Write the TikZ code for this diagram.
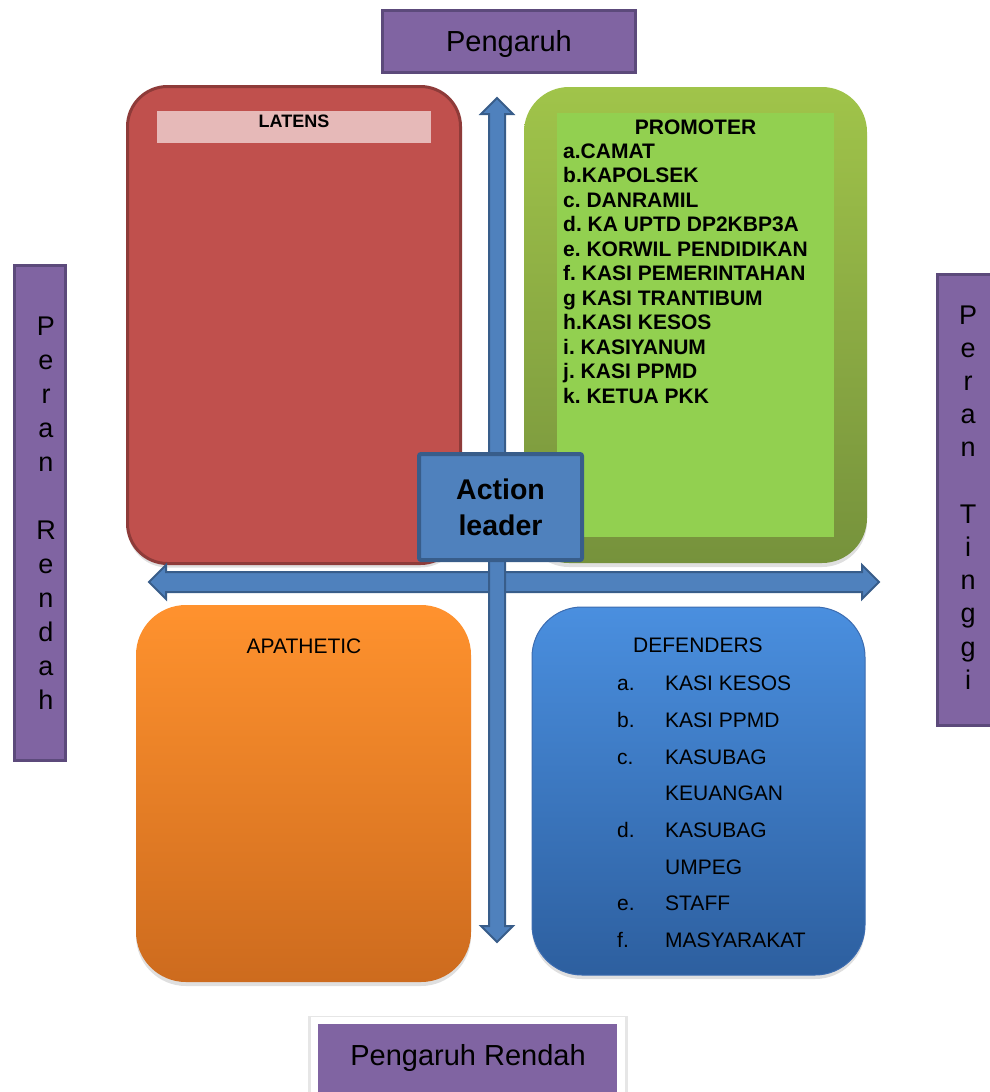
\documentclass[tikz,border=0pt]{standalone}
\usepackage{fontspec}
\setmainfont{Liberation Sans}
\usetikzlibrary{shapes.arrows,shadows}
\frenchspacing

\definecolor{rolefill}{HTML}{8064A2}
\definecolor{roleedge}{HTML}{5C4A7B}
\definecolor{latensfill}{HTML}{C0504D}
\definecolor{latensedge}{HTML}{8E3B39}
\definecolor{latensbar}{HTML}{E6B9B8}
\definecolor{promotop}{HTML}{A0C44A}
\definecolor{promobot}{HTML}{76923C}
\definecolor{promoinner}{HTML}{92D050}
\definecolor{axisfill}{HTML}{4F81BD}
\definecolor{axisedge}{HTML}{385D8A}
\definecolor{apatop}{HTML}{FF922E}
\definecolor{apabot}{HTML}{CD6B1E}
\definecolor{deftop}{HTML}{4A8FDF}
\definecolor{defbot}{HTML}{2D5F9F}
\definecolor{defedge}{HTML}{3C6CB0}

\tikzset{
	rolebox/.style={draw=roleedge, fill=rolefill, line width=3pt, inner sep=0pt},
	roletext/.style={font=\fontsize{27}{34}\selectfont, align=center, inner sep=0pt},
	quad/.style={rounded corners=#1, inner sep=0pt, drop shadow={opacity=0.25, shadow xshift=0pt, shadow yshift=-4pt}},
	axisarrow/.style={double arrow, fill=axisfill, draw=axisedge, line width=2pt, inner xsep=0pt, double arrow tip angle=90},
	quadtitle/.style={font=\fontsize{21}{25}\selectfont, inner sep=0pt},
	boldtitle/.style={font=\bfseries\fontsize{21}{24.5}\selectfont, inner sep=0pt},
}

\begin{document}
\begin{tikzpicture}[x=1pt, y=-1pt]
	\useasboundingbox (0,0) rectangle (989,1092);
	\node[rolebox, minimum width=253pt, minimum height=62pt, text depth=0pt, font=\fontsize{29}{34}\selectfont] (pengaruh) at (509,41) {Pengaruh};
	\node[rolebox, minimum width=51pt, minimum height=495pt] (rendah) at (40,513) {};
	\node[roletext] (rendahtext) at (46,513.5) {P\\e\\r\\a\\n\\~\\R\\e\\n\\d\\a\\h};
	\node[rolebox, minimum width=63pt, minimum height=451pt] (tinggi) at (969,500) {};
	\node[roletext, font=\fontsize{27}{33.2}\selectfont] (tinggitext) at (968,497.5) {P\\e\\r\\a\\n\\~\\T\\i\\n\\g\\g\\i};

	\node[quad=40pt, fill=latensfill, draw=latensedge, line width=3pt, minimum width=333pt, minimum height=477pt, drop shadow={opacity=0}] (latens) at (294,325) {};
	\node[fill=latensbar, minimum width=274pt, minimum height=32pt, inner sep=0pt] (latensbar) at (294,127) {};
	\node[font=\bfseries\fontsize{18}{20}\selectfont, inner sep=0pt] (latenstitle) at (294,121.5) {LATENS};

	\node[quad=45pt, top color=promotop, bottom color=promobot, minimum width=343pt, minimum height=476pt] (promoter) at (695.5,325) {};
	\node[fill=promoinner, minimum width=277pt, minimum height=424pt, inner sep=0pt] (promobox) at (695.5,325) {};
	\node[boldtitle] (promotitle) at (695.5,127) {PROMOTER};
	\node[boldtitle, anchor=north west] (promolist) at (563,140.9) {\begin{tabular}{@{}l@{}}
		a.CAMAT\\ b.KAPOLSEK\\ c. DANRAMIL\\ d. KA UPTD DP2KBP3A\\ e. KORWIL PENDIDIKAN\\
		f. KASI PEMERINTAHAN\\ g KASI TRANTIBUM\\ h.KASI KESOS\\ i. KASIYANUM\\ j. KASI PPMD\\ k. KETUA PKK
	\end{tabular}};

	\node[quad=50pt, top color=apatop, bottom color=apabot, minimum width=335pt, minimum height=377pt] (apathetic) at (303.5,793.5) {};
	\node[quadtitle] (apatitle) at (304,646.5) {APATHETIC};

	\node[quad=50pt, top color=deftop, bottom color=defbot, draw=defedge, line width=1pt, minimum width=333pt, minimum height=368pt] (defenders) at (698.5,791) {};
	\node[quadtitle] (deftitle) at (698,645.5) {DEFENDERS};
	\node[anchor=north west, inner sep=0pt, font=\fontsize{21}{36.7}\selectfont] (deflist) at (617,664.8) {\begin{tabular}{@{}p{48pt}@{}l@{}}
		a.&KASI KESOS\\ b.&KASI PPMD\\ c.&KASUBAG\\ &KEUANGAN\\ d.&KASUBAG\\ &UMPEG\\ e.&STAFF\\ f.&MASYARAKAT
	\end{tabular}};

	\node[axisarrow, minimum height=730pt, inner ysep=9pt, double arrow head extend=7pt] (haxis) at (514,582) {};
	\node[axisarrow, rotate=90, minimum height=844pt, inner ysep=7pt, double arrow head extend=8pt] (vaxis) at (497,520) {};

	\node[fill=axisfill, draw=axisedge, line width=4pt, rounded corners=2pt, minimum width=163pt, minimum height=106pt, align=center, font=\bfseries\fontsize{28.5}{36}\selectfont] (leader) at (500.5,507) {Action\\leader};

	\node[fill=white, minimum width=314pt, minimum height=90pt, drop shadow={opacity=0.2, shadow xshift=0pt, shadow yshift=0pt, shadow scale=1.02}] (rendahframe) at (468,1062) {};
	\node[fill=rolefill, minimum width=299pt, minimum height=80pt, inner sep=0pt] (pengaruhrendah) at (467.5,1064) {};
	\node[anchor=base, inner sep=0pt, font=\fontsize{29}{34}\selectfont] (rendahlabel) at (468,1065.5) {Pengaruh Rendah};
\end{tikzpicture}
\end{document}
